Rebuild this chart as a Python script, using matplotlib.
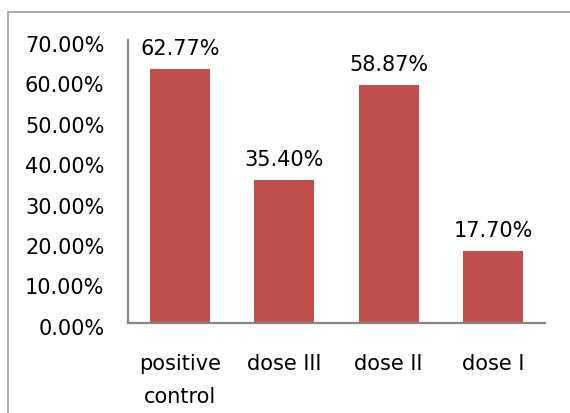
import matplotlib.pyplot as plt
import matplotlib.transforms as mtransforms
from matplotlib.patches import Rectangle

categories = ['positive\ncontrol', 'dose III', 'dose II', 'dose I']
values = [62.77, 35.40, 58.87, 17.70]
yticks = [0, 10, 20, 30, 40, 50, 60, 70]

plt.rcParams['font.family'] = ['DejaVu Sans']

fig = plt.figure(figsize=(5.7, 4.14), dpi=100)
ax = fig.add_axes([128 / 570, 90.3 / 414, 417 / 570, 282.7 / 414])

# outer chart frame (cut off at right and bottom like the source)
fig.patches.append(Rectangle((8 / 570, -0.1), 1.2, (414 - 13) / 414 + 0.1,
                             transform=fig.transFigure, fill=False,
                             edgecolor='#9a9a9a', linewidth=1.2))

x = list(range(len(categories)))
ax.bar(x, values, width=0.575, color='#C0504D')

for xi, v in zip(x, values):
    ax.annotate('%.2f%%' % v, (xi, v), xytext=(0, 15), textcoords='offset points',
                ha='center', va='center', fontsize=15)

ax.set_xlim(-0.5, len(categories) - 0.5)
ax.set_ylim(0, 70)
ax.set_yticks(yticks)
ax.set_yticklabels(['%.2f%%' % t for t in yticks], fontsize=15)
ax.set_xticks(x)
ax.set_xticklabels(categories, fontsize=15, linespacing=1.8)
ax.tick_params(axis='y', length=0, pad=17)
ax.tick_params(axis='x', length=0, pad=22)

# nudge y tick labels a little lower, as in the source
shift = mtransforms.ScaledTranslation(0, -3 / 100, fig.dpi_scale_trans)
for lbl in ax.get_yticklabels():
    lbl.set_transform(lbl.get_transform() + shift)

for s in ['top', 'right']:
    ax.spines[s].set_visible(False)
for s in ['left', 'bottom']:
    ax.spines[s].set_color('#868686')
    ax.spines[s].set_linewidth(1.6)

fig.savefig('out.png', dpi=100)
